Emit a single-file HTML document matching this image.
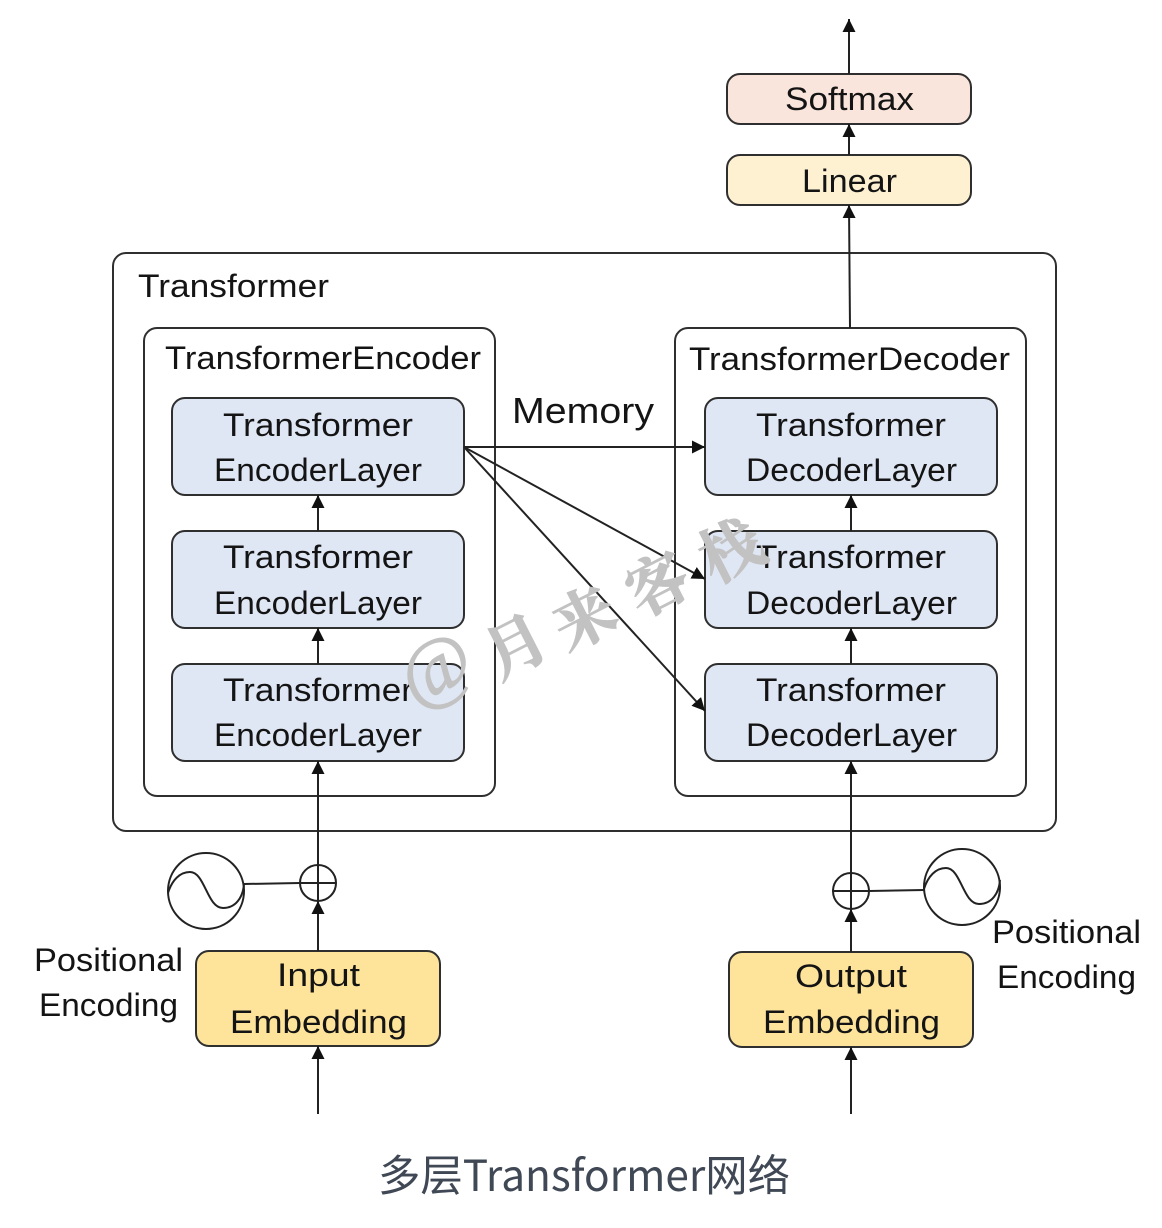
<!DOCTYPE html>
<html><head><meta charset="utf-8"><style>
html,body{margin:0;padding:0;background:#fff}
svg{display:block}
text{font-family:"Liberation Sans","Noto Sans CJK SC",sans-serif;fill:#141414;font-size:32px}
.b{stroke:#2f2f2f;stroke-width:2}
.l{stroke:#222;stroke-width:2;fill:none}
.w{font-family:"Noto Serif CJK SC",serif;fill:#c2c2c2;font-size:62px;font-weight:bold;stroke:#c2c2c2;stroke-width:1}
</style></head><body>
<svg width="1162" height="1228" viewBox="0 0 1162 1228" xmlns="http://www.w3.org/2000/svg">
<defs><marker id="a" markerUnits="userSpaceOnUse" markerWidth="14" markerHeight="14" refX="13" refY="6.5" orient="auto"><path d="M0 0L13 6.5L0 13z" fill="#111"/></marker></defs>
<rect width="1162" height="1228" fill="#fff"/>

<rect class="b" x="727" y="74" width="244" height="50" rx="13" fill="#fae5dc"/>
<rect class="b" x="727" y="155" width="244" height="50" rx="13" fill="#fdf1d2"/>
<rect class="b" x="113" y="253" width="943" height="578" rx="13" fill="#fff"/>
<rect class="b" x="144" y="328" width="351" height="468" rx="13" fill="#fff"/>
<rect class="b" x="675" y="328" width="351" height="468" rx="13" fill="#fff"/>
<g fill="#e0e7f4">
<rect class="b" x="172" y="398" width="292" height="97" rx="13"/>
<rect class="b" x="172" y="531" width="292" height="97" rx="13"/>
<rect class="b" x="172" y="664" width="292" height="97" rx="13"/>
<rect class="b" x="705" y="398" width="292" height="97" rx="13"/>
<rect class="b" x="705" y="531" width="292" height="97" rx="13"/>
<rect class="b" x="705" y="664" width="292" height="97" rx="13"/>
</g>
<rect class="b" x="196" y="951" width="244" height="95" rx="13" fill="#fee49b"/>
<rect class="b" x="729" y="952" width="244" height="95" rx="13" fill="#fee49b"/>

<line class="l" x1="849" y1="74" x2="849" y2="19" marker-end="url(#a)"/>
<line class="l" x1="849" y1="155" x2="849" y2="124" marker-end="url(#a)"/>
<line class="l" x1="850" y1="328" x2="849" y2="205" marker-end="url(#a)"/>
<line class="l" x1="318" y1="531" x2="318" y2="495" marker-end="url(#a)"/>
<line class="l" x1="318" y1="664" x2="318" y2="628" marker-end="url(#a)"/>
<line class="l" x1="318" y1="901" x2="318" y2="761" marker-end="url(#a)"/>
<line class="l" x1="851" y1="531" x2="851" y2="495" marker-end="url(#a)"/>
<line class="l" x1="851" y1="664" x2="851" y2="628" marker-end="url(#a)"/>
<line class="l" x1="851" y1="909" x2="851" y2="761" marker-end="url(#a)"/>
<line class="l" x1="464" y1="447" x2="705" y2="447" marker-end="url(#a)"/>
<line class="l" x1="464" y1="447" x2="705" y2="579" marker-end="url(#a)"/>
<line class="l" x1="464" y1="447" x2="705" y2="711" marker-end="url(#a)"/>
<line class="l" x1="318" y1="951" x2="318" y2="901" marker-end="url(#a)"/>
<line class="l" x1="851" y1="952" x2="851" y2="909" marker-end="url(#a)"/>
<line class="l" x1="318" y1="1114" x2="318" y2="1046" marker-end="url(#a)"/>
<line class="l" x1="851" y1="1114" x2="851" y2="1047" marker-end="url(#a)"/>

<circle class="l" cx="318" cy="883" r="18"/>
<line class="l" x1="300" y1="883" x2="336" y2="883"/>
<circle class="l" cx="851" cy="891" r="18"/>
<line class="l" x1="833" y1="891" x2="869" y2="891"/>
<line class="l" x1="244" y1="884" x2="300" y2="883"/>
<line class="l" x1="869" y1="891" x2="924" y2="890"/>
<circle class="l" cx="206" cy="891" r="38"/>
<path class="l" d="M168 893C172 880 180 872 190 872C205 872 207 908 223 908C236 908 243 897 244 884"/>
<circle class="l" cx="962" cy="887" r="38"/>
<path class="l" d="M924 889C928 876 936 868 946 868C961 868 963 904 979 904C992 904 999 893 1000 880"/>

<text x="138" y="297" textLength="191" lengthAdjust="spacingAndGlyphs">Transformer</text>
<text x="165" y="369" textLength="316" lengthAdjust="spacingAndGlyphs">TransformerEncoder</text>
<text x="689" y="370" textLength="321" lengthAdjust="spacingAndGlyphs">TransformerDecoder</text>
<text x="512" y="423" textLength="142" lengthAdjust="spacingAndGlyphs" style="font-size:36px">Memory</text>
<text x="785" y="110" textLength="129" lengthAdjust="spacingAndGlyphs">Softmax</text>
<text x="802" y="192" textLength="95" lengthAdjust="spacingAndGlyphs">Linear</text>

<text x="223" y="436" textLength="190" lengthAdjust="spacingAndGlyphs">Transformer</text>
<text x="214" y="481" textLength="208" lengthAdjust="spacingAndGlyphs">EncoderLayer</text>
<text x="223" y="568" textLength="190" lengthAdjust="spacingAndGlyphs">Transformer</text>
<text x="214" y="614" textLength="208" lengthAdjust="spacingAndGlyphs">EncoderLayer</text>
<text x="223" y="701" textLength="190" lengthAdjust="spacingAndGlyphs">Transformer</text>
<text x="214" y="746" textLength="208" lengthAdjust="spacingAndGlyphs">EncoderLayer</text>

<text x="756" y="436" textLength="190" lengthAdjust="spacingAndGlyphs">Transformer</text>
<text x="746" y="481" textLength="211" lengthAdjust="spacingAndGlyphs">DecoderLayer</text>
<text x="756" y="568" textLength="190" lengthAdjust="spacingAndGlyphs">Transformer</text>
<text x="746" y="614" textLength="211" lengthAdjust="spacingAndGlyphs">DecoderLayer</text>
<text x="756" y="701" textLength="190" lengthAdjust="spacingAndGlyphs">Transformer</text>
<text x="746" y="746" textLength="211" lengthAdjust="spacingAndGlyphs">DecoderLayer</text>

<text x="277" y="986" textLength="83" lengthAdjust="spacingAndGlyphs">Input</text>
<text x="230" y="1033" textLength="177" lengthAdjust="spacingAndGlyphs">Embedding</text>
<text x="795" y="987" textLength="112" lengthAdjust="spacingAndGlyphs">Output</text>
<text x="763" y="1033" textLength="177" lengthAdjust="spacingAndGlyphs">Embedding</text>

<text x="34" y="971" textLength="149" lengthAdjust="spacingAndGlyphs">Positional</text>
<text x="39" y="1016" textLength="139" lengthAdjust="spacingAndGlyphs">Encoding</text>
<text x="992" y="943" textLength="149" lengthAdjust="spacingAndGlyphs">Positional</text>
<text x="997" y="988" textLength="139" lengthAdjust="spacingAndGlyphs">Encoding</text>

<g>
<text class="w" transform="translate(415 707) rotate(-27)" style="font-family:'Liberation Serif',serif;font-size:78px;font-weight:normal">@</text>
<text class="w" transform="translate(498 680) rotate(-27)">月</text>
<text class="w" transform="translate(567 652) rotate(-27)">来</text>
<text class="w" transform="translate(640 618) rotate(-27)">客</text>
<text class="w" transform="translate(714 584) rotate(-27)">栈</text>
</g>

<text x="378" y="1191" style="font-family:'Noto Sans CJK SC','Liberation Sans',sans-serif;font-size:43px;fill:#3f4854" textLength="412" lengthAdjust="spacingAndGlyphs">多层Transformer网络</text>
</svg>
</body></html>
